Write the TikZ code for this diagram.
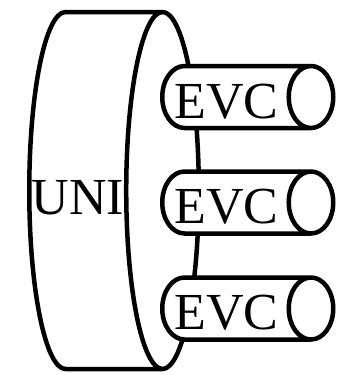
\documentclass[tikz,border=0pt]{standalone}
\usepackage{fontspec}
\setmainfont{Liberation Serif}
\usetikzlibrary{shapes.geometric}

\begin{document}
\begin{tikzpicture}[x=1pt,y=-1pt,
  pipe/.style={cylinder, draw, line width=4.5pt, fill=white, inner sep=0pt,
    text depth=0pt, font=\fontsize{52}{62}\selectfont},
  unipipe/.style={pipe, minimum width=357pt, minimum height=169pt,
    text height=48.4pt, aspect=1.5},
  evcpipe/.style={pipe, minimum width=62pt, minimum height=171pt,
    text height=42.4pt, aspect=1.05}]

\useasboundingbox (0,0) rectangle (337,375);

% the interface, with its circuits in front of it
\node[unipipe, anchor=west] (uni) at (27,190.5) {\hspace*{-34pt}UNI};

\node[evcpipe, anchor=west] (evc1) at (160,97) {\hspace*{-18pt}EVC};
\node[evcpipe, anchor=west] (evc2) at (160,202.5) {\hspace*{-18pt}EVC};
\node[evcpipe, anchor=west] (evc3) at (160,308.5) {\hspace*{-18pt}EVC};

\end{tikzpicture}
\end{document}
